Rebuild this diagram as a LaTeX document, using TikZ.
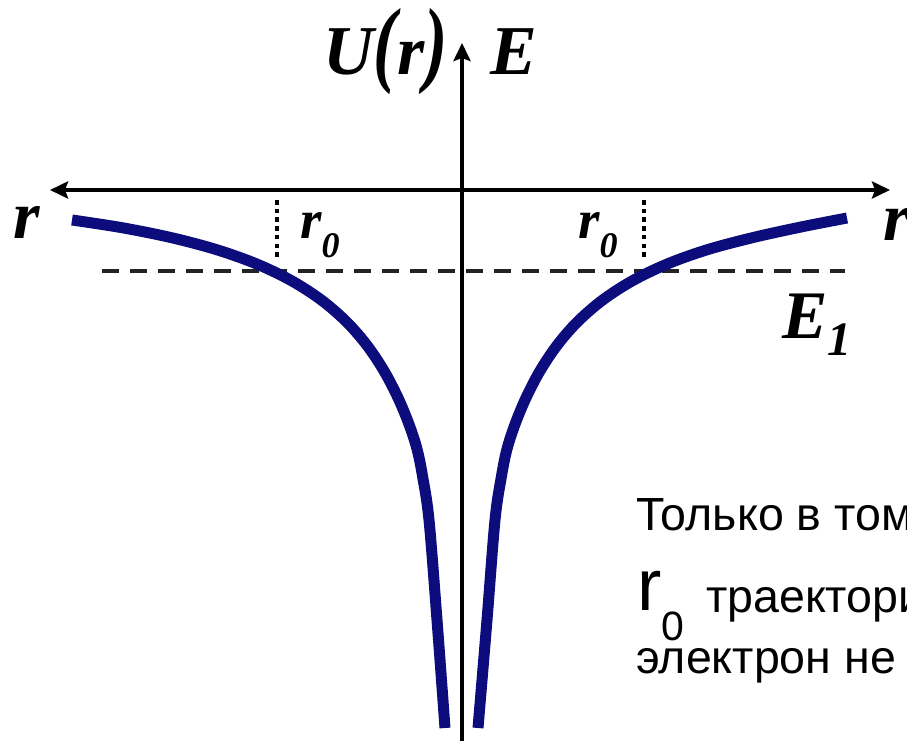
\documentclass[tikz,border=0pt]{standalone}
\usepackage{fontspec}
\setmainfont{Liberation Serif}
\newfontfamily\rusfont{Liberation Sans}
\usetikzlibrary{arrows.meta}
\definecolor{curveblue}{RGB}{12,12,125}
\definecolor{dashgray}{RGB}{35,35,35}
\tikzset{
  axisline/.style={line width=4.5pt, black, -{Stealth[length=18pt,width=17pt,inset=3pt]}},
  potcurve/.style={line width=11pt, curveblue, line cap=butt, line join=round},
  levelline/.style={line width=4.5pt, dashgray, dash pattern=on 17pt off 11pt},
  dropline/.style={line width=4.5pt, black, dash pattern=on 4.5pt off 4.2pt},
  lbl/.style={inner sep=0pt, anchor=base west, font=\bfseries\itshape},
  rus/.style={inner sep=0pt, anchor=base west, font=\rusfont}
}
\newcommand{\fs}[1]{\fontsize{#1}{#1}\selectfont}
\begin{document}
\begin{tikzpicture}[x=1pt,y=-1pt]
\useasboundingbox (0,0) rectangle (907,741);
\clip (0,0) rectangle (907,741);
\fill[white] (0,0) rectangle (907,741);
% axes
\coordinate (ybot) at (462,745);
\coordinate (ytop) at (462,43);
\coordinate (xcen) at (462,190);
\coordinate (xleft) at (50,190);
\coordinate (xright) at (890,190);
\draw[axisline] (ybot) -- (ytop);
\draw[axisline] (xcen) -- (xleft);
\draw[axisline] (xcen) -- (xright);
% energy level
\coordinate (lvlL) at (102,271);
\coordinate (lvlR) at (845,271);
\draw[levelline] (lvlL) -- (lvlR);
% turning points
\coordinate (t1a) at (277,200); \coordinate (t1b) at (277,260);
\coordinate (t2a) at (644,200); \coordinate (t2b) at (644,260);
\draw[dropline] (t1a) -- (t1b);
\draw[dropline] (t2a) -- (t2b);
% potential curves
\draw[potcurve] plot[smooth, tension=0.55] coordinates {(72,220) (122,227.7) (172,237.8) (217,249.8) (257,264.1) (292,281) (322,300.5) (347,322.3) (367,345.4) (384,370.9) (398,397.8) (409,424.3) (417,449) (422.5,476) (429,520) (437,620) (445,728)};
\draw[potcurve] plot[smooth, tension=0.55] coordinates {(847,218) (800,227.2) (752,237.8) (707,249.8) (667,264.1) (632,281) (602,300.5) (577,322.3) (557,345.4) (540,370.9) (526,397.8) (515,424.3) (507,449) (501.5,476) (495,520) (487,620) (478,728)};
% labels
\node[lbl] (Ur) at (323,75) {\fs{70}U\scalebox{1}[1.36]{(}r\scalebox{1}[1.36]{)}};
\node[lbl] (E) at (490,75) {\fs{70}E};
\node[lbl] (rL) at (13,238) {\fs{68}r};
\node[lbl] (rR) at (883,240) {\fs{68}r};
\node[lbl] (r0L) at (300,238) {\fs{55}r\raisebox{-19pt}{\fs{36}0}};
\node[lbl] (r0R) at (578,238) {\fs{55}r\raisebox{-19pt}{\fs{36}0}};
\node[lbl] (E1) at (782,338) {\fs{68}E\raisebox{-17pt}{\fs{48}1}};
% text
\node[rus] (t1) at (636,530) {\fs{46.5}Только в том};
\node[rus] (t2r) at (637,610) {\fs{73}r};
\node[rus] (t2s) at (661,640) {\fs{41}0};
\node[rus] (t2) at (706,612) {\fs{46.5}траектория};
\node[rus] (t3) at (636,673) {\fs{46.5}электрон не};
\end{tikzpicture}
\end{document}
